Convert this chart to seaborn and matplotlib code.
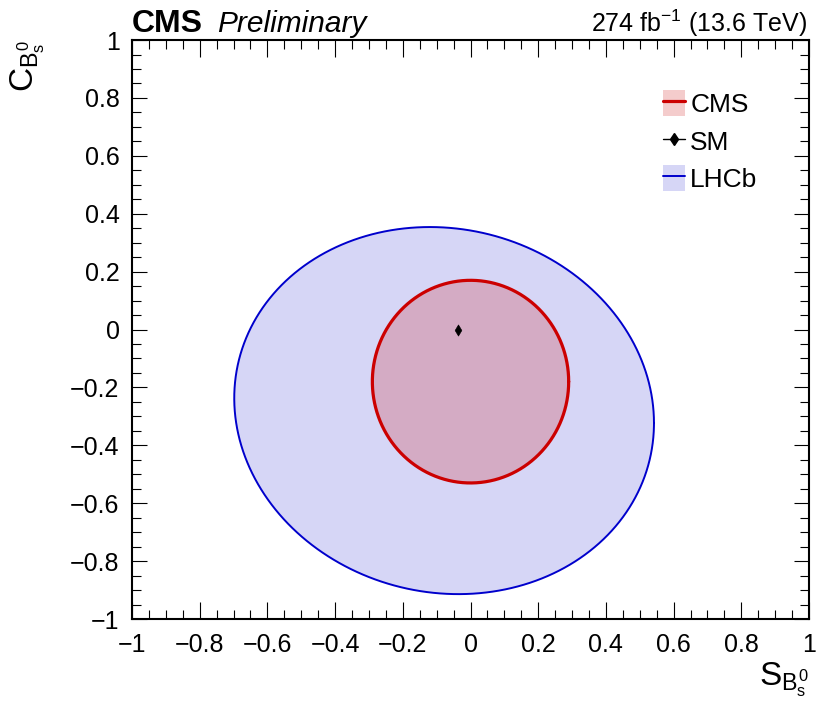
import numpy as np
import pandas as pd
import matplotlib
matplotlib.use("Agg")
import matplotlib.pyplot as plt
import seaborn as sns
from matplotlib.patches import Patch
from matplotlib.lines import Line2D
from matplotlib.ticker import MultipleLocator

# -----------------------------
# Values
# -----------------------------
cms_center = [0.0, -0.18]
cms_sigma = [0.29, 0.35]
cms_rho = 0.0

lhcb_center = [-0.078, -0.28]
lhcb_sigma = [0.62, 0.634]
lhcb_rho = -0.068

sm_point = [-0.037, 0.0]

legend_labels = ["CMS", "SM", "LHCb"]


def contour(center, sigma, rho, n=400):
    t = np.linspace(0, 2 * np.pi, n)
    x = center[0] + sigma[0] * np.cos(t)
    y = center[1] + sigma[1] * (rho * np.cos(t) + np.sqrt(1 - rho ** 2) * np.sin(t))
    return pd.DataFrame({"x": x, "y": y})


def fmt(v, pos):
    if abs(v) < 1e-9:
        return "0"
    return f"{v:g}".replace("-", "\u2212")


cms = contour(cms_center, cms_sigma, cms_rho)
lhcb = contour(lhcb_center, lhcb_sigma, lhcb_rho)

# -----------------------------
# Style
# -----------------------------
sns.set_theme(style="ticks")
plt.rcParams["font.family"] = ["Liberation Sans", "DejaVu Sans"]
plt.rcParams["mathtext.fontset"] = "custom"
plt.rcParams["mathtext.rm"] = "Liberation Sans"
plt.rcParams["mathtext.it"] = "Liberation Sans"
plt.rcParams["mathtext.bf"] = "Liberation Sans:bold"
for key in ["text.color", "axes.labelcolor", "xtick.color", "ytick.color",
            "axes.edgecolor"]:
    plt.rcParams[key] = "black"

red = "#cc0000"
blue = "#0000cc"

fig = plt.figure(figsize=(8.19, 7.06), dpi=100)
ax = fig.add_axes([0.1612, 0.1232, 0.8266, 0.8201])

# LHCb contour
ax.fill(lhcb["x"], lhcb["y"], color=blue, alpha=0.16, lw=0)
sns.lineplot(data=lhcb, x="x", y="y", sort=False, estimator=None,
             color=blue, lw=1.4, ax=ax)

# CMS contour
ax.fill(cms["x"], cms["y"], color=red, alpha=0.2, lw=0)
sns.lineplot(data=cms, x="x", y="y", sort=False, estimator=None,
             color=red, lw=2.3, ax=ax)

# SM point
sns.scatterplot(x=[sm_point[0]], y=[sm_point[1]], marker="d", s=32,
                color="black", edgecolor="black", ax=ax, zorder=5)

# -----------------------------
# Axes
# -----------------------------
ax.set_xlim(-1, 1)
ax.set_ylim(-1, 1)
ax.xaxis.set_major_locator(MultipleLocator(0.2))
ax.xaxis.set_minor_locator(MultipleLocator(0.05))
ax.yaxis.set_major_locator(MultipleLocator(0.2))
ax.yaxis.set_minor_locator(MultipleLocator(0.05))
ax.tick_params(which="both", direction="in", top=True, right=True,
               labelsize=18, width=0.8)
ax.tick_params(axis="x", which="major", length=12, pad=10)
ax.tick_params(axis="y", which="major", length=11, pad=9)
ax.tick_params(which="minor", length=6.5)
ax.xaxis.set_major_formatter(fmt)
ax.yaxis.set_major_formatter(fmt)
for s in ax.spines.values():
    s.set_linewidth(1.5)

ax.set_xlabel(r"$S_{B_s^0}$", fontsize=24, loc="right")
ax.xaxis.set_label_coords(1.0, -0.072)
ax.set_ylabel(r"$C_{B_s^0}$", fontsize=24, loc="top")
ax.yaxis.set_label_coords(-0.125, 1.0)

# header texts
ax.text(0.0, 1.014, "CMS", transform=ax.transAxes, fontsize=23,
        fontweight="bold", va="baseline", ha="left")
ax.text(0.1256, 1.014, "Preliminary", transform=ax.transAxes, fontsize=21.5,
        fontstyle="italic", va="baseline", ha="left")
ax.text(0.997, 1.014, r"274 fb$^{-1}$ (13.6 TeV)", transform=ax.transAxes,
        fontsize=18, va="baseline", ha="right")

# -----------------------------
# Legend
# -----------------------------
handles = [
    (Patch(facecolor=red, alpha=0.2, lw=0), Line2D([], [], color=red, lw=2.3)),
    Line2D([], [], color="black", lw=1, marker="d", markersize=6),
    (Patch(facecolor=blue, alpha=0.16, lw=0), Line2D([], [], color=blue, lw=1.4)),
]
ax.legend(handles, legend_labels, loc="upper left", bbox_to_anchor=(0.768, 0.932),
          frameon=False, fontsize=19, handlelength=0.85, handleheight=1.15,
          handletextpad=0.2, labelspacing=0.4, borderaxespad=0)

fig.savefig("out.png", dpi=100)
plt.close(fig)
